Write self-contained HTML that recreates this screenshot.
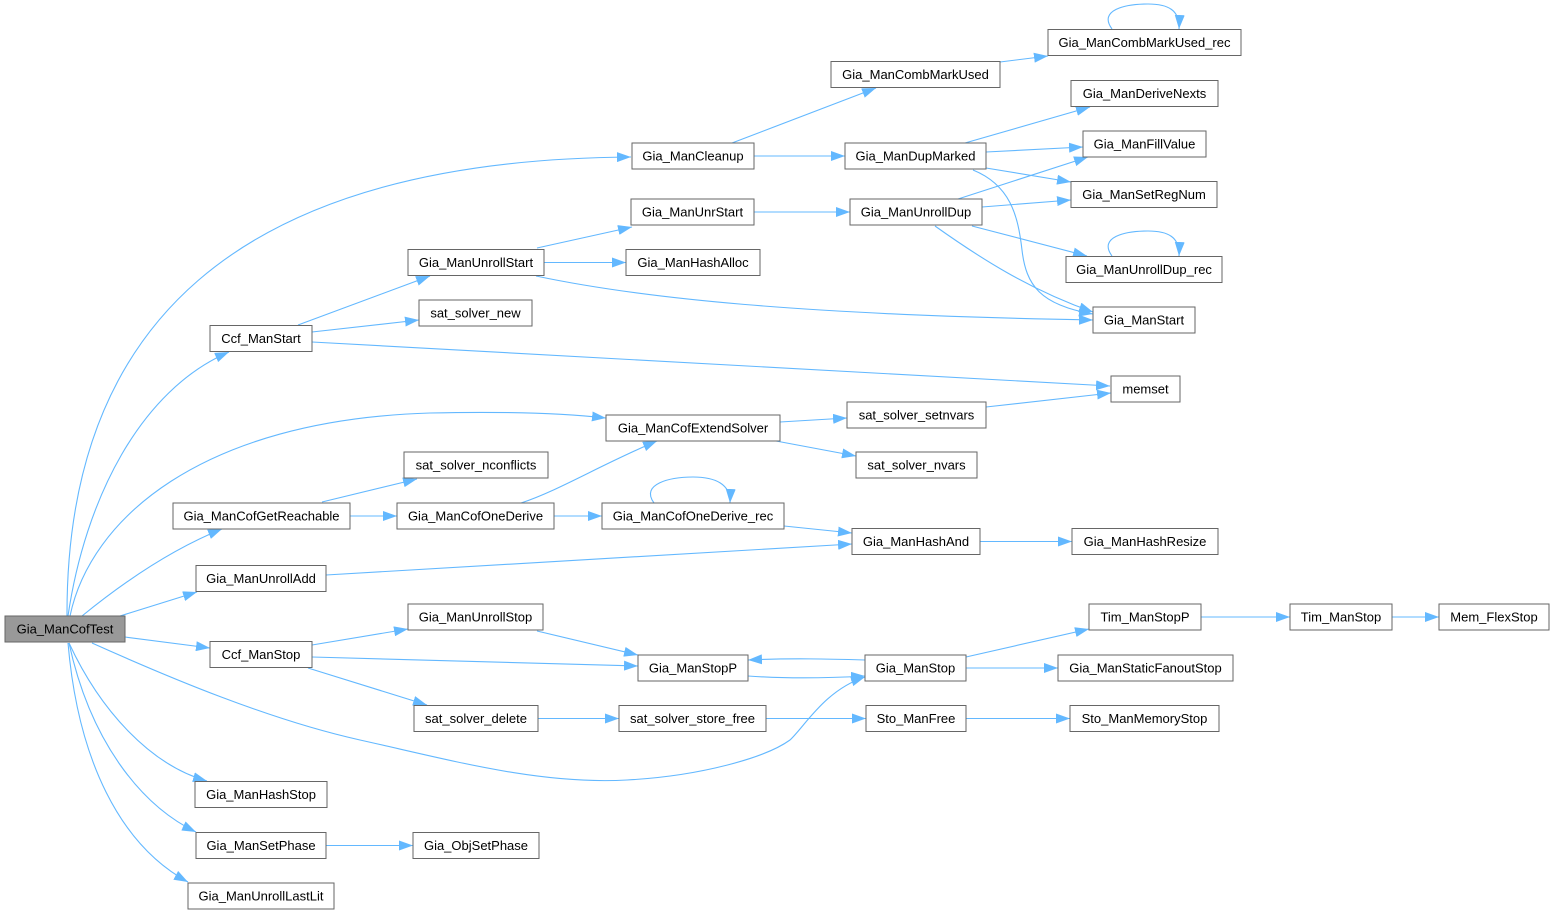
<!DOCTYPE html>
<html>
<head>
<meta charset="utf-8">
<style>
  html, body { margin:0; padding:0; background:#ffffff; }
  svg { display:block; }
  .n rect { fill:#ffffff; stroke:#666666; stroke-width:1; }
  .n text { font-family:"Liberation Sans", Arial, sans-serif; font-size:13px; fill:#000000; text-anchor:middle; }
  .e { fill:none; stroke:#63b8ff; stroke-width:1.1; marker-end:url(#ah); }
</style>
</head>
<body>
<svg width="1554" height="915" viewBox="0 0 1554 915" xmlns="http://www.w3.org/2000/svg">
<defs>
  <marker id="ah" viewBox="0 0 14 10" refX="14" refY="5" markerWidth="14" markerHeight="10" markerUnits="userSpaceOnUse" orient="auto">
    <path d="M0,0 L14,5 L0,10 z" fill="#63b8ff"/>
  </marker>
</defs>

<!-- edges -->
<g>
<path class="e" d="M67,616 C66,330 230,160 631,157"/>
<path class="e" d="M68,616 C85,500 140,390 229,352"/>
<path class="e" d="M70,616 C90,520 200,420 430,413 C520,411 570,414 606,418"/>
<path class="e" d="M82,616 C120,585 170,550 222,529"/>
<path class="e" d="M120,616 L197,592"/>
<path class="e" d="M125,637 L210,648"/>
<path class="e" d="M92,643 C170,678 270,720 360,740 C450,760 540,785 627,780 C700,776 765,758 790,740 C805,726 825,690 865,677"/>
<path class="e" d="M69,643 C100,710 150,765 207,781"/>
<path class="e" d="M69,643 C90,740 140,805 196,832"/>
<path class="e" d="M68,643 C78,760 120,845 188,882"/>
<path class="e" d="M298,325 L430,276"/>
<path class="e" d="M312,332 L419,320"/>
<path class="e" d="M312,342 L1110,386"/>
<path class="e" d="M537,248 L632,227"/>
<path class="e" d="M544,262.5 L626,262.5"/>
<path class="e" d="M536,276 C640,298 800,315 1093,320"/>
<path class="e" d="M732,143 L876,88"/>
<path class="e" d="M754,156 L845,156"/>
<path class="e" d="M754,212 L850,212"/>
<path class="e" d="M1000,62 L1048,56"/>
<path class="e" d="M1112,29 C1098,10 1125,4 1148,4 C1168,4 1180,10 1179,29"/>
<path class="e" d="M965,143 L1090,107"/>
<path class="e" d="M986,152 L1083,147"/>
<path class="e" d="M986,168 L1071,182"/>
<path class="e" d="M973,170 C1010,185 1018,215 1022,250 C1026,285 1040,305 1093,314"/>
<path class="e" d="M958,199 L1088,157"/>
<path class="e" d="M982,207 L1071,200"/>
<path class="e" d="M972,226 L1087,256"/>
<path class="e" d="M935,226 C980,258 1030,290 1093,312"/>
<path class="e" d="M1112,256 C1098,237 1125,231 1148,231 C1168,231 1180,237 1179,256"/>
<path class="e" d="M322,502 L417,479"/>
<path class="e" d="M350,516 L397,516"/>
<path class="e" d="M521,503 C560,490 600,465 657,441"/>
<path class="e" d="M554,516 L602,516"/>
<path class="e" d="M780,422 L847,418"/>
<path class="e" d="M776,441 L856,456"/>
<path class="e" d="M986,407 L1111,393"/>
<path class="e" d="M654,503 C640,484 670,477 693,477 C715,477 731,484 730,503"/>
<path class="e" d="M784,526 L852,533"/>
<path class="e" d="M326,575 L852,544"/>
<path class="e" d="M980,541.5 L1072,541.5"/>
<path class="e" d="M312,645 L408,629"/>
<path class="e" d="M312,657 L638,666"/>
<path class="e" d="M308,668 L427,705"/>
<path class="e" d="M537,631 L638,655"/>
<path class="e" d="M538,718.5 L619,718.5"/>
<path class="e" d="M766,718.5 L866,718.5"/>
<path class="e" d="M966,718.5 L1070,718.5"/>
<path class="e" d="M865,660 C830,659 790,658 748,660"/>
<path class="e" d="M748,676 C790,679 830,678 865,676"/>
<path class="e" d="M966,657 L1089,629"/>
<path class="e" d="M966,668 L1058,668"/>
<path class="e" d="M1201,617 L1290,617"/>
<path class="e" d="M1392,617 L1439,617"/>
<path class="e" d="M326,845.5 L413,845.5"/>
</g>

<!-- nodes -->
<g class="n">
<rect x="5" y="616" width="120" height="26" style="fill:#999999"/><text x="65" y="633.5">Gia_ManCofTest</text>
<rect x="210" y="325.5" width="102" height="26"/><text x="261" y="343">Ccf_ManStart</text>
<rect x="173" y="503" width="177" height="26"/><text x="261.5" y="520.5">Gia_ManCofGetReachable</text>
<rect x="196" y="565.5" width="130" height="26"/><text x="261" y="583">Gia_ManUnrollAdd</text>
<rect x="210" y="641.5" width="102" height="26"/><text x="261" y="659">Ccf_ManStop</text>
<rect x="195" y="781.5" width="132" height="26"/><text x="261" y="799">Gia_ManHashStop</text>
<rect x="196" y="832.5" width="130" height="26"/><text x="261" y="850">Gia_ManSetPhase</text>
<rect x="188" y="883" width="146" height="26"/><text x="261" y="900.5">Gia_ManUnrollLastLit</text>
<rect x="408" y="249.5" width="136" height="26"/><text x="476" y="267">Gia_ManUnrollStart</text>
<rect x="419" y="300" width="113" height="26"/><text x="475.5" y="317.5">sat_solver_new</text>
<rect x="404" y="452" width="144" height="26"/><text x="476" y="469.5">sat_solver_nconflicts</text>
<rect x="397" y="503" width="157" height="26"/><text x="475.5" y="520.5">Gia_ManCofOneDerive</text>
<rect x="408" y="604" width="135" height="26"/><text x="475.5" y="621.5">Gia_ManUnrollStop</text>
<rect x="414" y="705.5" width="124" height="26"/><text x="476" y="723">sat_solver_delete</text>
<rect x="413" y="832.5" width="126" height="26"/><text x="476" y="850">Gia_ObjSetPhase</text>
<rect x="632" y="143" width="122" height="26"/><text x="693" y="160.5">Gia_ManCleanup</text>
<rect x="631" y="199" width="123" height="26"/><text x="692.5" y="216.5">Gia_ManUnrStart</text>
<rect x="626" y="249.5" width="134" height="26"/><text x="693" y="267">Gia_ManHashAlloc</text>
<rect x="606" y="415" width="174" height="26"/><text x="693" y="432.5">Gia_ManCofExtendSolver</text>
<rect x="602" y="503" width="182" height="26"/><text x="693" y="520.5">Gia_ManCofOneDerive_rec</text>
<rect x="638" y="655" width="110" height="26"/><text x="693" y="672.5">Gia_ManStopP</text>
<rect x="619" y="705.5" width="147" height="26"/><text x="692.5" y="723">sat_solver_store_free</text>
<rect x="831" y="61.5" width="169" height="26"/><text x="915.5" y="79">Gia_ManCombMarkUsed</text>
<rect x="845" y="143" width="141" height="26"/><text x="915.5" y="160.5">Gia_ManDupMarked</text>
<rect x="850" y="199" width="132" height="26"/><text x="916" y="216.5">Gia_ManUnrollDup</text>
<rect x="847" y="402" width="139" height="26"/><text x="916.5" y="419.5">sat_solver_setnvars</text>
<rect x="856" y="452" width="121" height="26"/><text x="916.5" y="469.5">sat_solver_nvars</text>
<rect x="852" y="528.5" width="128" height="26"/><text x="916" y="546">Gia_ManHashAnd</text>
<rect x="865" y="655" width="101" height="26"/><text x="915.5" y="672.5">Gia_ManStop</text>
<rect x="866" y="705.5" width="100" height="26"/><text x="916" y="723">Sto_ManFree</text>
<rect x="1048" y="29.5" width="193" height="26"/><text x="1144.5" y="47">Gia_ManCombMarkUsed_rec</text>
<rect x="1071" y="80.5" width="147" height="26"/><text x="1144.5" y="98">Gia_ManDeriveNexts</text>
<rect x="1083" y="131" width="123" height="26"/><text x="1144.5" y="148.5">Gia_ManFillValue</text>
<rect x="1071" y="181.5" width="146" height="26"/><text x="1144" y="199">Gia_ManSetRegNum</text>
<rect x="1066" y="256.5" width="156" height="26"/><text x="1144" y="274">Gia_ManUnrollDup_rec</text>
<rect x="1093" y="307" width="102" height="26"/><text x="1144" y="324.5">Gia_ManStart</text>
<rect x="1111" y="376" width="69" height="26"/><text x="1145.5" y="393.5">memset</text>
<rect x="1072" y="528.5" width="146" height="26"/><text x="1145" y="546">Gia_ManHashResize</text>
<rect x="1089" y="604" width="112" height="26"/><text x="1145" y="621.5">Tim_ManStopP</text>
<rect x="1058" y="655" width="175" height="26"/><text x="1145.5" y="672.5">Gia_ManStaticFanoutStop</text>
<rect x="1070" y="705.5" width="149" height="26"/><text x="1144.5" y="723">Sto_ManMemoryStop</text>
<rect x="1290" y="604" width="102" height="26"/><text x="1341" y="621.5">Tim_ManStop</text>
<rect x="1439" y="604" width="110" height="26"/><text x="1494" y="621.5">Mem_FlexStop</text>
</g>
</svg>
</body>
</html>
